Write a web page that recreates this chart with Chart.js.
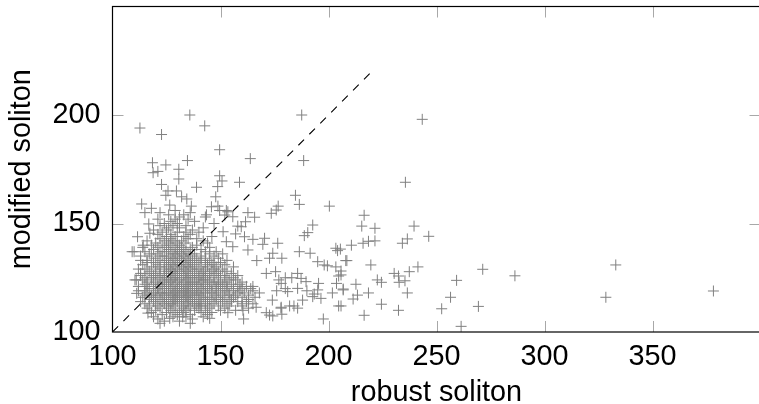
<!DOCTYPE html>
<html>
<head>
<meta charset="utf-8">
<style>
html,body{margin:0;padding:0;background:#fff;overflow:hidden;width:759px;height:404px}
#w{position:absolute;left:0;top:0;width:767px;height:404px}
</style>
<script src="https://cdn.jsdelivr.net/npm/chart.js@4"></script>
</head>
<body>
<div id="w"><canvas id="c" width="767" height="404"></canvas></div>
<script>
const xTitle = "robust soliton";
const yTitle = "modified soliton";
const xTicks = [100,150,200,250,300,350,400];
const yTicks = [100,150,200,250];
const xLabels = [100,150,200,250,300,350];
const yLabels = [100,150,200];
const diagonalX = [100,220];
const diagonalY = [100,220];

// scattered points, read one by one
const sparseRobust = [135.8,142.7,112.7,122.7,149.6,118.5,134.7,124.7,130.7,121,118.8,149.6,150.7,130.7,122.7,138.9,148.7,129.6,125.7,124.7,147.8,134.4,132,113.5,118,115,126.5,136.5,145.8,148.8,152.7,149.6,143.5,187.6,163.8,188.5,158.8,184.7,186.5,200.4,176.7,175.8,173.5,162.7,165.8,153.4,152,155.7,161.6,158,159.6,192.7,190.4,188.8,176.5,170.4,169.6,165,161.1,157,162.7,155.7,152.7,151.2,186.5,191.5,174.2,172.7,178.4,166.8,203.4,204.2,208,195,198,199.5,203.4,204.7,203.7,206.8,201.8,195.4,195,193.4,196.5,192.7,189.6,187.3,185.7,183,180,177,175.5,171.2,178.1,181.1,176,180,184,182,178,185.7,188,185.7,190,204.7,197.6,160.7,172.7,174.2,178.4,171.2,178.1,174,166.5,160.4,153.4,168,165,243.4,235.6,216.5,215.4,221.5,239.6,246.4,236.5,234.2,221.5,218.5,216,210.6,205.5,208.5,219.6,205.8,205.8,241.4,237.4,230.4,232.4,222.6,224.5,232.7,235.4,259.3,271.4,286.3,212.7,206.8,236.5,218.5,213.4,211.4,256.5,224.5,252.4,269.4,232.4,216.5,261.4,205.8,333,328.4,378.2,109.1,111.6,117.3,114.2,116.8,110.4,111.2,145,126.5,132.5,116.4];
const sparseModified = [200,195,194,191,184,178,179,177,175,174,173.4,172,169.6,170.5,168,166.7,167,165,165,163,162.3,161.3,162.3,159,157,155,158.5,158,157.7,158,156,156,154,200,179.9,179,169,163,158.8,158,158,156.2,154.7,155,152.9,155.4,153.9,153.1,150.8,148.8,148.5,149.3,145.8,144.4,140.9,143.2,140.4,142.7,143.9,145.2,137.8,139.3,141.6,146.2,137,136.3,136.3,134,134,132.9,138.6,137.5,132.9,132.4,130.9,130.5,130,125.8,122.4,119.4,118,122.4,119.4,117.5,115.5,116.3,123.2,124.7,127,125,125,124,127.8,127,122.4,118.6,119,120,112,112,111,111,114.7,120.1,119,112,106,106,107.8,107.4,108.2,108.9,111.4,114.7,111.4,110,108.9,118,121,198,169,153.8,148.8,147.8,148.8,144.1,142.9,140.9,142,141.8,140.9,140,138.2,132.9,130.9,128.1,126.3,130,127.8,127,125.8,124,122.9,122.9,123.6,123.8,128.9,125.9,122,119.8,118,118,117,115.2,116,112.8,110.7,111.8,110,107.7,102.6,112,130.9,116,118.9,137,143.9,145.5,140,149.8,124,117.8,106.3,106.3,107,108.7];

// dense cluster, read row by row
const rowModified = [104,105,106,107,108,109,110,111,112,113,114,115,116,117,118,119,120,121,122,123,124,125,126,127,128,129,130,131,132,133,134,135,136,137,138,139,140,141,142,143,144,145,146,147,148,149,150,151,152,153,154,155,156];
const rowRobust = [
[122,136],
[124,131],
[121,137],
[119,128,134,142],
[123,130,136,144],
[118,125,129,133,141,146],
[120,127,131,134,138,143,150,157],
[116,122,126,132,136,140,145,152,163],
[117,121,125,128,133,135,139,141,144,149,154,160],
[115,120,124,127,129,134,138,140,143,147,153,160,165],
[113,119,123,125,128,130,132,135,137,141,146,151,155,158,162],
[117,122,124,126,129,131,133,136,138,140,143,145,148,150,155,163],
[114,118,120,125,128,130,132,134,135,137,142,144,148,152,156,160,166],
[115,118,121,124,127,129,131,134,136,139,141,147,151,154,157,163],
[116,119,122,123,125,128,130,133,135,138,140,143,146,149,154,158,161],
[112,115,120,126,129,131,133,134,137,139,142,146,150,153,156,159,165],
[117,119,121,124,127,130,132,135,137,141,143,145,148,152,156,160,164],
[112,116,121,123,126,128,131,134,136,139,144,148,150,153,158,162],
[115,119,122,125,129,132,135,137,140,142,146,149,151,155,159],
[116,120,124,127,130,133,136,138,141,145,147,150,153,160],
[111,114,118,123,126,128,131,134,139,142,144,149,154,157],
[115,118,121,124,127,129,132,135,137,140,143,147,152,156],
[113,119,122,125,130,134,136,138,141,143,145,150,152,158],
[113,116,120,124,127,129,133,135,140,142,145,148,155],
[117,122,126,128,131,134,138,142,146,149,153],
[112,115,120,124,127,130,133,137,139,143,147,151],
[118,122,125,129,132,135,136,141,144,148,156],
[114,121,126,128,131,134,138,144,147,152],
[116,119,124,127,130,133,136,140,143,146,150],
[113,116,122,125,129,132,135,137,141,145,153],
[120,126,128,131,134,139,143,149],
[113,118,123,125,130,133,136,141,147],
[117,121,127,129,132,135,138,145,151],
[110,115,122,124,128,131,134,143,148],
[119,126,130,133,136,141],
[114,121,125,129,132,137,145],
[118,123,127,131,139],
[120,126,130,134,144],
[116,124,128,132,142],
[122,127,135,139],
[125,129,133,146],
[121,127,136],
[123,130,134,140],
[119,125,137],
[126,131,142],
[122,128,134],
[124,130,147],
[127,138],
[121,129,135],
[131,143],
[126,133],
[122,136],
[129]
];

const scatterData = [];
sparseRobust.forEach((x,i)=>scatterData.push({x:x,y:sparseModified[i]}));
rowRobust.forEach((list,i)=>list.forEach(x=>scatterData.push({x:x,y:rowModified[i]})));
const diagonalData = diagonalX.map((x,i)=>({x:x,y:diagonalY[i]}));

const frame = {
  id:'frame',
  afterDatasetsDraw(chart){
    const {ctx,chartArea:a,scales:{x,y}} = chart;
    ctx.save();
    ctx.lineWidth = 1;
    ctx.strokeStyle = '#a8a8a8';
    ctx.beginPath();
    const L = 11;
    xTicks.slice(1,-1).forEach(v=>{
      const p = Math.round(x.getPixelForValue(v))+0.5;
      ctx.moveTo(p,a.bottom); ctx.lineTo(p,a.bottom-L);
      ctx.moveTo(p,a.top); ctx.lineTo(p,a.top+L);
    });
    yTicks.slice(1,-1).forEach(v=>{
      const p = Math.round(y.getPixelForValue(v))+0.5;
      ctx.moveTo(a.left,p); ctx.lineTo(a.left+L,p);
      ctx.moveTo(a.right,p); ctx.lineTo(a.right-L,p);
    });
    ctx.stroke();
    ctx.strokeStyle = '#000';
    ctx.lineWidth = 1.2;
    ctx.strokeRect(a.left,a.top,a.right-a.left,a.bottom-a.top);
    ctx.restore();
  }
};

new Chart(document.getElementById('c'),{
  type:'scatter',
  data:{datasets:[
    {type:'line',data:diagonalData,borderColor:'#000',borderWidth:1.1,borderDash:[8,7.5],pointRadius:0,fill:false,tension:0},
    {data:scatterData,pointStyle:'cross',pointRadius:5.5,pointHoverRadius:5.5,pointBorderColor:'#808080',pointBackgroundColor:'#808080',pointBorderWidth:1,showLine:false}
  ]},
  plugins:[frame],
  options:{
    responsive:false,animation:false,
    layout:{padding:{top:6,right:0,left:0,bottom:0}},
    plugins:{legend:{display:false},tooltip:{enabled:false}},
    scales:{
      x:{type:'linear',min:100,max:400,
        afterFit(s){s.height=72;s.paddingLeft=0;s.paddingRight=0;},
        afterBuildTicks(s){s.ticks=xTicks.map(v=>({value:v}));},
        grid:{display:false},border:{display:false},
        ticks:{autoSkip:false,maxRotation:0,padding:0,color:'#000',font:{family:'"Liberation Sans"',size:28.8},
          callback:v=>xLabels.includes(v)?String(v):''},
        title:{display:true,text:xTitle,color:'#000',padding:{top:0,bottom:-6},font:{family:'"Liberation Sans"',size:28.8}}
      },
      y:{type:'linear',min:100,max:250,
        afterFit(s){s.width=112.5;s.paddingTop=0;s.paddingBottom=0;},
        afterBuildTicks(s){s.ticks=yTicks.map(v=>({value:v}));},
        grid:{display:false},border:{display:false},
        ticks:{autoSkip:false,padding:4,color:'#000',font:{family:'"Liberation Sans"',size:28.8},
          callback:v=>yLabels.includes(v)?String(v):''},
        title:{display:true,text:yTitle,color:'#000',padding:{top:5,bottom:0},font:{family:'"Liberation Sans"',size:28.8}}
      }
    }
  }
});
</script>
</body>
</html>
